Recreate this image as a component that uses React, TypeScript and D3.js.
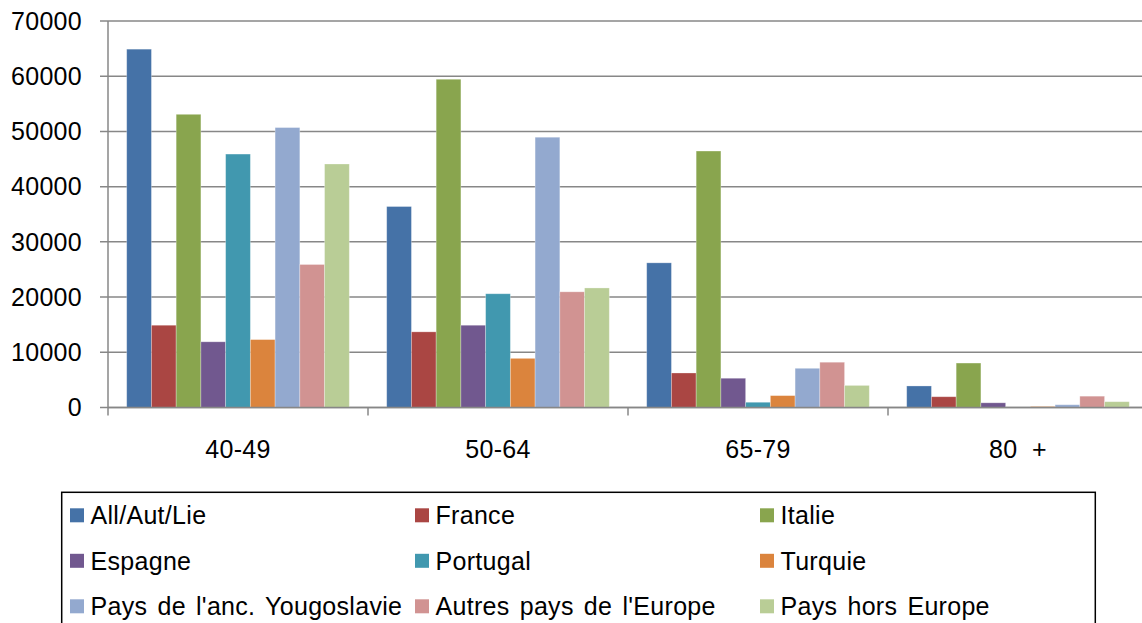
import React from "react";
import * as d3 from "d3";

const categories = ["40-49", "50-64", "65-79", "80  +"];
const seriesNames = [
  "All/Aut/Lie",
  "France",
  "Italie",
  "Espagne",
  "Portugal",
  "Turquie",
  "Pays de l'anc. Yougoslavie",
  "Autres pays de l'Europe",
  "Pays hors Europe",
];
const seriesColors = [
  "#4572A7", "#AA4643", "#89A54E", "#71588F", "#4198AF",
  "#DB843D", "#93A9CF", "#D19392", "#B9CD96",
];
// values per series, in category order
const allAutLie = [64900, 36400, 26200, 3900];
const france = [14900, 13700, 6250, 1950];
const italie = [53100, 59450, 46450, 8050];
const espagne = [11900, 14900, 5300, 850];
const portugal = [45900, 20600, 950, 50];
const turquie = [12300, 8900, 2150, 180];
const yougoslavie = [50700, 48950, 7100, 500];
const autresEurope = [25900, 20950, 8200, 2050];
const horsEurope = [44100, 21650, 4000, 1050];
const seriesValues = [
  allAutLie, france, italie, espagne, portugal, turquie, yougoslavie, autresEurope, horsEurope,
];
const yTicks = [0, 10000, 20000, 30000, 40000, 50000, 60000, 70000];

const W = 1142;
const H = 623;
const FONT = "'Liberation Sans', Arial, sans-serif";

export default function App() {
  const left = 108;
  const right = 1148;
  const top = 21;
  const bottom = 407.5;

  const x0 = d3.scaleBand<string>().domain(categories).range([left, right]).paddingInner(0).paddingOuter(0);
  const groupPad = 18.7;
  const x1 = d3
    .scaleBand<number>()
    .domain(d3.range(seriesNames.length))
    .range([groupPad, x0.bandwidth() - groupPad])
    .padding(0);
  const y = d3.scaleLinear().domain([0, 70000]).range([bottom, top]);

  const gridColor = "#878787";
  const legendCols = [70, 415, 760];
  const legendRows = [524.3, 569.8, 615.3];
  const fs = 25;
  const ls = 0.3;

  return (
    <svg
      width={W}
      height={H}
      style={{ position: "absolute", left: 0, top: 0, background: "#fff" }}
      fontFamily={FONT}
    >
      <rect x={0} y={0} width={W} height={H} fill="#fff" />
      {/* gridlines */}
      {yTicks.map((t) => (
        <g key={t}>
          <line x1={left - 8} x2={right} y1={y(t)} y2={y(t)} stroke={gridColor} strokeWidth={1.5} />
          <text x={82} y={y(t)} dy="0.35em" textAnchor="end" fontSize={fs} letterSpacing={ls} fill="#000">
            {t}
          </text>
        </g>
      ))}
      {/* bars */}
      {categories.map((c, ci) => (
        <g key={c} transform={`translate(${x0(c)},0)`}>
          {seriesValues.map((vals, si) => (
            <rect
              key={si}
              x={x1(si)}
              y={y(vals[ci])}
              width={x1.bandwidth()}
              height={bottom - y(vals[ci])}
              fill={seriesColors[si]}
              stroke="#ffffff"
              strokeOpacity={0.35}
              strokeWidth={0.8}
            />
          ))}
        </g>
      ))}
      {/* axes */}
      <line x1={left} x2={left} y1={top} y2={bottom + 8} stroke={gridColor} strokeWidth={1.5} />
      <line x1={left} x2={right} y1={bottom} y2={bottom} stroke={gridColor} strokeWidth={1.5} />
      {categories.map((c) => (
        <line
          key={"t" + c}
          x1={(x0(c) as number) + x0.bandwidth()}
          x2={(x0(c) as number) + x0.bandwidth()}
          y1={bottom}
          y2={bottom + 8}
          stroke={gridColor}
          strokeWidth={1.5}
        />
      ))}
      {categories.map((c) => (
        <text
          key={"l" + c}
          x={(x0(c) as number) + x0.bandwidth() / 2}
          y={458.3}
          textAnchor="middle"
          fontSize={fs}
          letterSpacing={ls}
          fill="#000"
          style={{ whiteSpace: "pre" }}
        >
          {c}
        </text>
      ))}
      {/* legend */}
      <rect x={61.7} y={492.3} width={1033.6} height={200} fill="none" stroke="#000" strokeWidth={1.5} />
      {seriesNames.map((name, i) => {
        const col = i % 3;
        const row = Math.floor(i / 3);
        const sx = legendCols[col];
        const by = legendRows[row];
        return (
          <g key={name}>
            <rect x={sx} y={by - 16} width={14} height={14} fill={seriesColors[i]} />
            <text x={sx + 20.5} y={by} fontSize={fs} letterSpacing={ls} wordSpacing={2.9} fill="#000">
              {name}
            </text>
          </g>
        );
      })}
    </svg>
  );
}
